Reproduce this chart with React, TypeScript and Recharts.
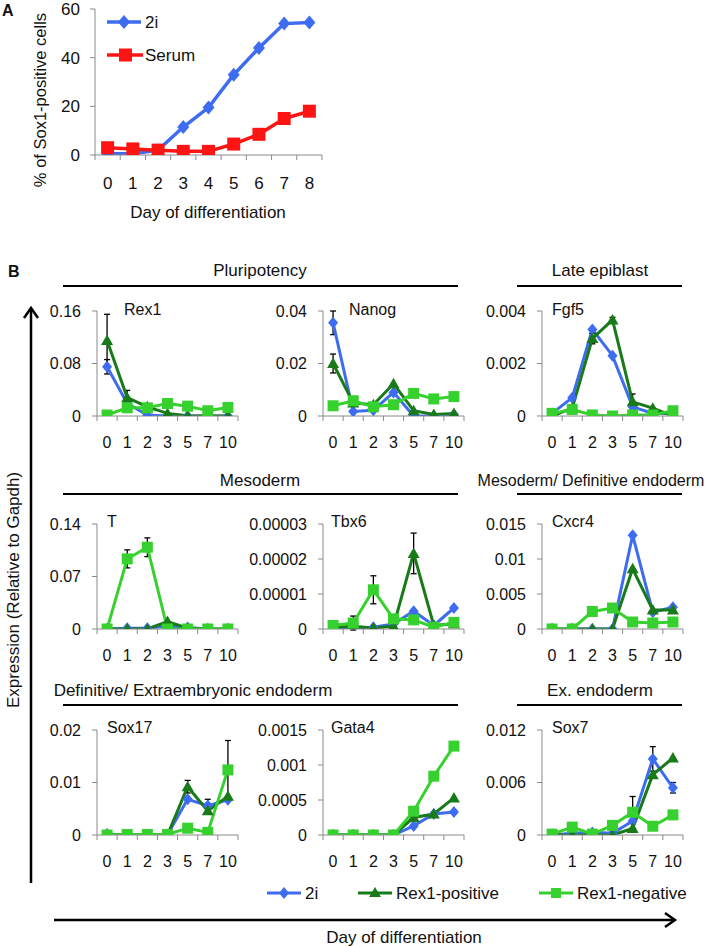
import React from 'react';
import { LineChart, Line, XAxis, YAxis, ErrorBar } from 'recharts';

const FONT = 'Arial, "Liberation Sans", Helvetica, sans-serif';
const AXIS_GRAY = '#8a8a8a';
const C_2I = '#3d6cf0';
const C_POS = '#187a18';
const C_NEG = '#36d12e';
const C_SERUM = '#ff1414';

// ---------- Panel A data ----------
const DAYS_A = ['0', '1', '2', '3', '4', '5', '6', '7', '8'];
const SOX1_2I = [0.5, 0.5, 2, 11.5, 19.5, 33, 44, 54, 54.5];
const SOX1_SERUM = [3, 2.5, 2, 1.5, 1.5, 4.5, 8.5, 15, 18];
const TICKS_A = [0, 20, 40, 60];
const SERIES_A = ['2i', 'Serum'];

// ---------- Panel B data ----------
const DAYS_B = ['0', '1', '2', '3', '5', '7', '10'];
const SERIES_B = ['2i', 'Rex1-positive', 'Rex1-negative'];

const REX1_2I = [0.075, 0.019, 0.0015, 0, 0, 0, 0];
const REX1_POS = [0.115, 0.028, 0.014, 0.004, 0.0005, 0, 0];
const REX1_NEG = [0.0015, 0.0125, 0.0125, 0.019, 0.015, 0.008, 0.013];
const REX1_E2I = [0.011, null, null, null, null, null, null];
const REX1_EPOS = [0.04, 0.011, null, null, null, null, null];
const REX1_ENEG = [null, null, null, null, null, null, null];
const REX1_TICKS = [0, 0.08, 0.16];
const REX1_LABELS = ['0', '0.08', '0.16'];

const NANOG_2I = [0.0355, 0.0017, 0.0022, 0.009, 0, 0, 0.0006];
const NANOG_POS = [0.02, 0.005, 0.0043, 0.0123, 0.002, 0.0006, 0.001];
const NANOG_NEG = [0.0039, 0.0058, 0.0035, 0.0043, 0.0086, 0.0065, 0.0074];
const NANOG_E2I = [0.0045, null, null, null, null, null, null];
const NANOG_EPOS = [0.0036, null, null, null, null, null, null];
const NANOG_ENEG = [null, null, null, null, null, null, null];
const NANOG_TICKS = [0, 0.02, 0.04];
const NANOG_LABELS = ['0', '0.02', '0.04'];

const FGF5_2I = [0.0001, 0.0007, 0.0033, 0.0023, 0.00035, 0.0001, 0.0001];
const FGF5_POS = [0, 0.0003, 0.00295, 0.00366, 0.00054, 0.0003, 0];
const FGF5_NEG = [0.0001, 0.00025, 0.00004, 0, 0.00004, 0.00004, 0.0002];
const FGF5_E2I = [null, null, null, null, null, null, null];
const FGF5_EPOS = [null, null, 0.0002, 0.0001, 0.0003, null, null];
const FGF5_ENEG = [null, null, null, null, null, null, null];
const FGF5_TICKS = [0, 0.002, 0.004];
const FGF5_LABELS = ['0', '0.002', '0.004'];

const T_2I = [0, 0.001, 0.001, 0.004, 0.002, 0, 0];
const T_POS = [0, 0, 0, 0.01, 0.001, 0, 0];
const T_NEG = [0, 0.0935, 0.109, 0, 0, 0, 0];
const T_E2I = [null, null, null, null, null, null, null];
const T_EPOS = [null, null, null, null, null, null, null];
const T_ENEG = [null, 0.012, 0.0125, null, null, null, null];
const T_TICKS = [0, 0.07, 0.14];
const T_LABELS = ['0', '0.07', '0.14'];

const TBX6_2I = [0.0000003, 0, 0.0000005, 0.0000014, 0.0000051, 0.000001, 0.000006];
const TBX6_POS = [0.0000005, 0.0000008, 0.0000003, 0.0000008, 0.0000216, 0.000001, 0.0000015];
const TBX6_NEG = [0.000001, 0.0000017, 0.0000112, 0.0000029, 0.0000026, 0.0000005, 0.0000019];
const TBX6_E2I = [null, null, null, null, null, null, null];
const TBX6_EPOS = [null, null, null, null, 0.0000058, null, null];
const TBX6_ENEG = [null, 0.000002, 0.000004, null, null, null, null];
const TBX6_TICKS = [0, 0.00001, 0.00002, 0.00003];
const TBX6_LABELS = ['0', '0.00001', '0.00002', '0.00003'];

const CXCR4_2I = [0, 0, 0, 0, 0.0134, 0.0024, 0.0031];
const CXCR4_POS = [0, 0, 0, 0, 0.0086, 0.0027, 0.0027];
const CXCR4_NEG = [0, 0, 0.0025, 0.003, 0.001, 0.00086, 0.001];
const CXCR4_E2I = [null, null, null, null, null, null, null];
const CXCR4_EPOS = [null, null, null, null, null, null, null];
const CXCR4_ENEG = [null, null, null, null, null, null, null];
const CXCR4_TICKS = [0, 0.005, 0.01, 0.015];
const CXCR4_LABELS = ['0', '0.005', '0.01', '0.015'];

const SOX17_2I = [0.0002, 0, 0, 0.0001, 0.0068, 0.0056, 0.0067];
const SOX17_POS = [0, 0, 0, 0, 0.0092, 0.0046, 0.0074];
const SOX17_NEG = [0, 0.0001, 0.0001, 0.0001, 0.0013, 0.0005, 0.0124];
const SOX17_E2I = [null, null, null, null, null, 0.0012, null];
const SOX17_EPOS = [null, null, null, null, 0.0012, null, null];
const SOX17_ENEG = [null, null, null, null, null, null, 0.0056];
const SOX17_TICKS = [0, 0.01, 0.02];
const SOX17_LABELS = ['0', '0.01', '0.02'];

const GATA4_2I = [0, 0, 0, 0, 0.00013, 0.0003, 0.00033];
const GATA4_POS = [0, 0, 0, 0, 0.00025, 0.0003, 0.00053];
const GATA4_NEG = [0, 0, 0, 0, 0.00034, 0.00084, 0.00127];
const GATA4_E2I = [null, null, null, null, null, null, null];
const GATA4_EPOS = [null, null, null, null, null, null, null];
const GATA4_ENEG = [null, null, null, null, null, null, null];
const GATA4_TICKS = [0, 0.0005, 0.001, 0.0015];
const GATA4_LABELS = ['0', '0.0005', '0.001', '0.0015'];

const SOX7_2I = [0, 0.0002, 0.0003, 0.0002, 0.0016, 0.0087, 0.0054];
const SOX7_POS = [0, 0, 0, 0, 0.00075, 0.0069, 0.0088];
const SOX7_NEG = [0.0001, 0.0009, 0.0001, 0.0011, 0.0026, 0.001, 0.0023];
const SOX7_E2I = [null, null, null, null, null, 0.0014, 0.0006];
const SOX7_EPOS = [null, null, null, null, null, null, null];
const SOX7_ENEG = [null, null, null, null, 0.0018, null, null];
const SOX7_TICKS = [0, 0.006, 0.012];
const SOX7_LABELS = ['0', '0.006', '0.012'];

const GENES = ['Rex1', 'Nanog', 'Fgf5', 'T', 'Tbx6', 'Cxcr4', 'Sox17', 'Gata4', 'Sox7'];
const HEADERS = [
  ['Pluripotency', 'Late epiblast'],
  ['Mesoderm', 'Mesoderm/ Definitive endoderm'],
  ['Definitive/ Extraembryonic endoderm', 'Ex. endoderm'],
];

type PanelB = {
  gene: string;
  v2i: number[]; vpos: number[]; vneg: number[];
  e2i: (number | null)[]; epos: (number | null)[]; eneg: (number | null)[];
  ticks: number[]; labels: string[];
};

const PANELS: PanelB[] = [
  { gene: GENES[0], v2i: REX1_2I, vpos: REX1_POS, vneg: REX1_NEG, e2i: REX1_E2I, epos: REX1_EPOS, eneg: REX1_ENEG, ticks: REX1_TICKS, labels: REX1_LABELS },
  { gene: GENES[1], v2i: NANOG_2I, vpos: NANOG_POS, vneg: NANOG_NEG, e2i: NANOG_E2I, epos: NANOG_EPOS, eneg: NANOG_ENEG, ticks: NANOG_TICKS, labels: NANOG_LABELS },
  { gene: GENES[2], v2i: FGF5_2I, vpos: FGF5_POS, vneg: FGF5_NEG, e2i: FGF5_E2I, epos: FGF5_EPOS, eneg: FGF5_ENEG, ticks: FGF5_TICKS, labels: FGF5_LABELS },
  { gene: GENES[3], v2i: T_2I, vpos: T_POS, vneg: T_NEG, e2i: T_E2I, epos: T_EPOS, eneg: T_ENEG, ticks: T_TICKS, labels: T_LABELS },
  { gene: GENES[4], v2i: TBX6_2I, vpos: TBX6_POS, vneg: TBX6_NEG, e2i: TBX6_E2I, epos: TBX6_EPOS, eneg: TBX6_ENEG, ticks: TBX6_TICKS, labels: TBX6_LABELS },
  { gene: GENES[5], v2i: CXCR4_2I, vpos: CXCR4_POS, vneg: CXCR4_NEG, e2i: CXCR4_E2I, epos: CXCR4_EPOS, eneg: CXCR4_ENEG, ticks: CXCR4_TICKS, labels: CXCR4_LABELS },
  { gene: GENES[6], v2i: SOX17_2I, vpos: SOX17_POS, vneg: SOX17_NEG, e2i: SOX17_E2I, epos: SOX17_EPOS, eneg: SOX17_ENEG, ticks: SOX17_TICKS, labels: SOX17_LABELS },
  { gene: GENES[7], v2i: GATA4_2I, vpos: GATA4_POS, vneg: GATA4_NEG, e2i: GATA4_E2I, epos: GATA4_EPOS, eneg: GATA4_ENEG, ticks: GATA4_TICKS, labels: GATA4_LABELS },
  { gene: GENES[8], v2i: SOX7_2I, vpos: SOX7_POS, vneg: SOX7_NEG, e2i: SOX7_E2I, epos: SOX7_EPOS, eneg: SOX7_ENEG, ticks: SOX7_TICKS, labels: SOX7_LABELS },
];

// ---------- layout ----------
const COL_X = [97, 323, 542];
const ROW_Y = [311, 524, 730];
const PW = 141;
const PH = 105;
const TITLE_DX = [27, 26, 10, 10, 8, 10, 10, 8, 10];
const TITLE_DY = [4, 3, 3];
const HEADER_LINE_Y = [286, 494, 705];
const HEADER_TEXT_Y = [276, 486, 696];

// ---------- markers ----------
const diamond = (color: string, w: number, h: number) => (p: any) => {
  const { cx, cy, index } = p;
  if (cx == null || cy == null || isNaN(cy)) return <g key={`dm${index}`} />;
  return <path key={`dm${index}`} d={`M${cx},${cy - h}L${cx + w},${cy}L${cx},${cy + h}L${cx - w},${cy}Z`} fill={color} />;
};
const triangle = (color: string, w: number, h: number) => (p: any) => {
  const { cx, cy, index } = p;
  if (cx == null || cy == null || isNaN(cy)) return <g key={`tr${index}`} />;
  return <path key={`tr${index}`} d={`M${cx},${cy - h}L${cx + w},${cy + h * 0.75}L${cx - w},${cy + h * 0.75}Z`} fill={color} />;
};
const square = (color: string, s: number) => (p: any) => {
  const { cx, cy, index } = p;
  if (cx == null || cy == null || isNaN(cy)) return <g key={`sq${index}`} />;
  return <rect key={`sq${index}`} x={cx - s} y={cy - s} width={2 * s} height={2 * s} fill={color} />;
};

const bandTick = (labels: string[], band: number, off: number, fontSize: number) => (p: any) => {
  const { x, y, payload, index } = p;
  const ay = y - off;
  const n = labels.length;
  return (
    <g key={`tk${index}`}>
      <line x1={x - band / 2} x2={x - band / 2} y1={ay} y2={ay + 5} stroke={AXIS_GRAY} strokeWidth={1} />
      {payload.value === n - 1 && (
        <line x1={x + band / 2} x2={x + band / 2} y1={ay} y2={ay + 5} stroke={AXIS_GRAY} strokeWidth={1} />
      )}
      <text x={x} y={y} dy="0.71em" textAnchor="middle" fontSize={fontSize} fontFamily={FONT} fill="#111">
        {labels[payload.value]}
      </text>
    </g>
  );
};

function BPanel({ panel, left, top }: { panel: PanelB; left: number; top: number }) {
  const data = DAYS_B.map((d, i) => ({
    i, day: d,
    a: panel.v2i[i], b: panel.vpos[i], c: panel.vneg[i],
    ea: panel.e2i[i], eb: panel.epos[i], ec: panel.eneg[i],
  }));
  const max = panel.ticks[panel.ticks.length - 1];
  return (
    <div style={{ position: 'absolute', left: left - 95, top: top - 12 }}>
      <LineChart width={95 + PW + 10} height={12 + PH + 45} data={data} margin={{ top: 12, right: 10, bottom: 0, left: 0 }}>
        <XAxis
          type="number" dataKey="i" domain={[-0.5, DAYS_B.length - 0.5]} ticks={DAYS_B.map((_, i) => i)}
          interval={0} height={45} tickSize={5} tickMargin={16} tickLine={false}
          axisLine={{ stroke: AXIS_GRAY, strokeWidth: 1 }}
          tick={bandTick(DAYS_B, PW / DAYS_B.length, 21, 16)} allowDataOverflow
        />
        <YAxis
          type="number" domain={[0, max]} ticks={panel.ticks} interval={0} width={95}
          tickSize={5} tickMargin={11} allowDataOverflow
          axisLine={{ stroke: AXIS_GRAY, strokeWidth: 1 }} tickLine={{ stroke: AXIS_GRAY, strokeWidth: 1 }}
          tick={{ fill: '#111', fontSize: 16, fontFamily: FONT }}
          tickFormatter={(v: number) => panel.labels[panel.ticks.indexOf(v)] ?? String(v)}
        />
        <Line type="linear" dataKey="a" name={SERIES_B[0]} stroke={C_2I} strokeWidth={3} dot={diamond(C_2I, 5, 6)} activeDot={false} isAnimationActive={false}>
          <ErrorBar dataKey="ea" width={3} stroke="#000" strokeWidth={1.3} direction="y" />
        </Line>
        <Line type="linear" dataKey="b" name={SERIES_B[1]} stroke={C_POS} strokeWidth={3} dot={triangle(C_POS, 6, 6)} activeDot={false} isAnimationActive={false}>
          <ErrorBar dataKey="eb" width={3} stroke="#000" strokeWidth={1.3} direction="y" />
        </Line>
        <Line type="linear" dataKey="c" name={SERIES_B[2]} stroke={C_NEG} strokeWidth={3} dot={square(C_NEG, 5.5)} activeDot={false} isAnimationActive={false}>
          <ErrorBar dataKey="ec" width={3} stroke="#000" strokeWidth={1.3} direction="y" />
        </Line>
      </LineChart>
    </div>
  );
}

function APanel() {
  const data = DAYS_A.map((d, i) => ({ i, day: d, a: SOX1_2I[i], s: SOX1_SERUM[i] }));
  const plotW = 340 - 95 - 18;
  return (
    <div style={{ position: 'absolute', left: 0, top: -10 }}>
      <LineChart width={340} height={210} data={data} margin={{ top: 19, right: 18, bottom: 0, left: 0 }}>
        <XAxis
          type="number" dataKey="i" domain={[-0.5, DAYS_A.length - 0.5]} ticks={DAYS_A.map((_, i) => i)}
          interval={0} height={45} tickSize={5} tickMargin={17} tickLine={false}
          axisLine={{ stroke: AXIS_GRAY, strokeWidth: 1 }}
          tick={bandTick(DAYS_A, plotW / DAYS_A.length, 22, 17)} allowDataOverflow
        />
        <YAxis
          type="number" domain={[0, 60]} ticks={TICKS_A} interval={0} width={95}
          tickSize={5} tickMargin={10} allowDataOverflow
          axisLine={{ stroke: AXIS_GRAY, strokeWidth: 1 }} tickLine={{ stroke: AXIS_GRAY, strokeWidth: 1 }}
          tick={{ fill: '#111', fontSize: 17, fontFamily: FONT }}
        />
        <Line type="linear" dataKey="a" name={SERIES_A[0]} stroke={C_2I} strokeWidth={3.5} dot={diamond(C_2I, 6, 7)} activeDot={false} isAnimationActive={false} />
        <Line type="linear" dataKey="s" name={SERIES_A[1]} stroke={C_SERUM} strokeWidth={3.5} dot={square(C_SERUM, 6.5)} activeDot={false} isAnimationActive={false} />
      </LineChart>
    </div>
  );
}

function Overlay() {
  const txt = { fontFamily: FONT, fill: '#111' } as const;
  const legendB = [
    { x: 267, color: C_2I, kind: 'd' },
    { x: 358, color: C_POS, kind: 't' },
    { x: 539, color: C_NEG, kind: 's' },
  ];
  return (
    <svg width={710} height={947} style={{ position: 'absolute', left: 0, top: 0, pointerEvents: 'none' }}>
      {/* Panel letters */}
      <text x={2} y={16} fontSize={16} fontWeight="bold" {...txt}>A</text>
      <text x={8} y={277} fontSize={16} fontWeight="bold" {...txt}>B</text>

      {/* Panel A legend */}
      <line x1={107} x2={141} y1={22} y2={22} stroke={C_2I} strokeWidth={3.5} />
      <path d={`M124,15L130,22L124,29L118,22Z`} fill={C_2I} />
      <text x={145} y={28} fontSize={17} {...txt}>{SERIES_A[0]}</text>
      <line x1={107} x2={143} y1={55} y2={55} stroke={C_SERUM} strokeWidth={3.5} />
      <rect x={119} y={48.5} width={13} height={13} fill={C_SERUM} />
      <text x={145} y={61} fontSize={17} {...txt}>{SERIES_A[1]}</text>

      {/* Panel A axis titles */}
      <text x={208} y={218} fontSize={17} textAnchor="middle" {...txt}>Day of differentiation</text>
      <text transform="translate(46,100) rotate(-90)" fontSize={16.5} textAnchor="middle" {...txt}>% of Sox1-positive cells</text>

      {/* Panel B headers */}
      {HEADERS.map((row, r) => (
        <g key={`h${r}`}>
          <line x1={63} x2={458} y1={HEADER_LINE_Y[r]} y2={HEADER_LINE_Y[r]} stroke="#000" strokeWidth={2} />
          <line x1={517} x2={682} y1={HEADER_LINE_Y[r]} y2={HEADER_LINE_Y[r]} stroke="#000" strokeWidth={2} />
          <text x={r === 2 ? 193 : 260} y={HEADER_TEXT_Y[r]} fontSize={17} textAnchor="middle" {...txt}>{row[0]}</text>
          <text x={r === 1 ? 591 : 600} y={HEADER_TEXT_Y[r]} fontSize={r === 1 ? 16 : 17} textAnchor="middle" {...txt}>{row[1]}</text>
        </g>
      ))}

      {/* Gene titles */}
      {GENES.map((g, k) => {
        const r = Math.floor(k / 3);
        const c = k % 3;
        return (
          <text key={g} x={COL_X[c] + TITLE_DX[k]} y={ROW_Y[r] + TITLE_DY[r]} fontSize={16} {...txt}>{g}</text>
        );
      })}

      {/* Vertical arrow + label */}
      <line x1={31} x2={31} y1={883} y2={309} stroke="#000" strokeWidth={2.5} />
      <polyline points="24,318 31,308 38,318" fill="none" stroke="#000" strokeWidth={2.5} />
      <text transform="translate(19,590) rotate(-90)" fontSize={17} textAnchor="middle" {...txt}>Expression (Relative to Gapdh)</text>

      {/* Horizontal arrow + label */}
      <line x1={54} x2={674} y1={920} y2={920} stroke="#000" strokeWidth={2.5} />
      <polyline points="665,913 675,920 665,927" fill="none" stroke="#000" strokeWidth={2.5} />
      <text x={404} y={943} fontSize={17} textAnchor="middle" {...txt}>Day of differentiation</text>

      {/* Panel B legend */}
      {legendB.map((l, k) => (
        <g key={`lg${k}`}>
          <line x1={l.x} x2={l.x + 34} y1={893} y2={893} stroke={l.color} strokeWidth={3} />
          {l.kind === 'd' && <path d={`M${l.x + 17},887L${l.x + 22},893L${l.x + 17},899L${l.x + 12},893Z`} fill={l.color} />}
          {l.kind === 't' && <path d={`M${l.x + 17},887L${l.x + 23},897L${l.x + 11},897Z`} fill={l.color} />}
          {l.kind === 's' && <rect x={l.x + 12} y={888} width={10} height={10} fill={l.color} />}
          <text x={l.x + 38} y={899} fontSize={17} {...txt}>{SERIES_B[k]}</text>
        </g>
      ))}
    </svg>
  );
}

export default function App() {
  return (
    <div style={{ position: 'absolute', left: 0, top: 0, width: 710, height: 947, background: '#fff', fontFamily: FONT, overflow: 'hidden' }}>
      <APanel />
      {PANELS.map((p, k) => (
        <BPanel key={p.gene} panel={p} left={COL_X[k % 3]} top={ROW_Y[Math.floor(k / 3)]} />
      ))}
      <Overlay />
    </div>
  );
}
